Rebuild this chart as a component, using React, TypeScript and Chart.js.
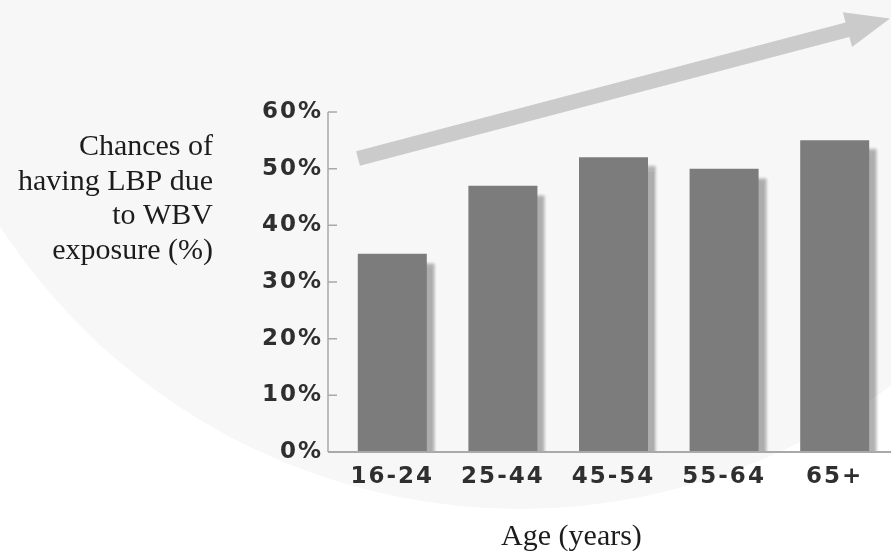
import React, { useEffect, useRef } from "react";
import { Chart, registerables } from "chart.js";

Chart.register(...registerables);

// Age groups and share of workers reporting LBP from whole-body vibration
const AGE_GROUPS = ["16-24", "25-44", "45-54", "55-64", "65+"];
const LBP_CHANCE = [35, 47, 52, 50, 55];
const Y_MIN = 0;
const Y_MAX = 60;
const Y_STEP = 10;
const Y_TITLE_LINES = ["Chances of", "having LBP due", "to WBV", "exposure (%)"];
const X_TITLE = "Age (years)";

// Trend arrow: [fraction across the plot width, value on the y scale]
const ARROW_FROM = [0.038, 51.8];
const ARROW_TO = [1.0, 76.5];

const BAR_COLOR = "#7c7c7c";
const AXIS_COLOR = "#a9a9a9";
const TICK_TEXT = "#2f2f2f";
const SERIF = "'Liberation Serif', 'Times New Roman', serif";
const TICK_FAMILY = "'DejaVu Sans', sans-serif";

const decorPlugin = {
  id: "decor",
  beforeDraw(chart: any) {
    const { ctx } = chart;
    ctx.save();
    // faint seal-like backdrop
    ctx.fillStyle = "rgba(0,0,0,0.03)";
    ctx.beginPath();
    ctx.arc(520, -111, 620, 0, Math.PI * 2);
    ctx.fill();
    ctx.restore();
    ctx.letterSpacing = "2px";
  },
  beforeDatasetsDraw(chart: any) {
    const { ctx } = chart;
    ctx.save();
    ctx.shadowColor = "rgba(0,0,0,0.3)";
    ctx.shadowOffsetX = 8;
    ctx.shadowOffsetY = 9;
    ctx.shadowBlur = 3;
  },
  afterDatasetsDraw(chart: any) {
    const { ctx, chartArea: a } = chart;
    const y = chart.scales.y;
    ctx.restore();

    ctx.save();
    ctx.letterSpacing = "0px";
    // axis line, inward tick marks and baseline
    const axisX = a.left - 9;
    ctx.strokeStyle = AXIS_COLOR;
    ctx.lineWidth = 1.5;
    ctx.beginPath();
    ctx.moveTo(axisX, y.getPixelForValue(Y_MAX));
    ctx.lineTo(axisX, y.getPixelForValue(Y_MIN));
    for (let v = Y_MIN; v <= Y_MAX; v += Y_STEP) {
      const py = y.getPixelForValue(v);
      ctx.moveTo(axisX, py);
      ctx.lineTo(a.left, py);
    }
    ctx.stroke();
    ctx.lineWidth = 2;
    ctx.beginPath();
    const base = y.getPixelForValue(Y_MIN);
    ctx.moveTo(axisX, base);
    ctx.lineTo(chart.width, base);
    ctx.stroke();

    // rising trend arrow
    const w = a.right - a.left;
    const x0 = a.left + ARROW_FROM[0] * w;
    const y0 = y.getPixelForValue(ARROW_FROM[1]);
    const x1 = a.left + ARROW_TO[0] * w;
    const y1 = y.getPixelForValue(ARROW_TO[1]);
    const len = Math.hypot(x1 - x0, y1 - y0);
    const ux = (x1 - x0) / len;
    const uy = (y1 - y0) / len;
    const nx = -uy;
    const ny = ux;
    const shaft = 7.5;
    const headLen = 44;
    const headHalf = 18;
    const bx = x1 - ux * headLen;
    const by = y1 - uy * headLen;
    ctx.fillStyle = "#cbcbcb";
    ctx.beginPath();
    ctx.moveTo(x0 + nx * shaft, y0 + ny * shaft);
    ctx.lineTo(bx + nx * shaft, by + ny * shaft);
    ctx.lineTo(bx + nx * headHalf, by + ny * headHalf);
    ctx.lineTo(x1, y1);
    ctx.lineTo(bx - nx * headHalf, by - ny * headHalf);
    ctx.lineTo(bx - nx * shaft, by - ny * shaft);
    ctx.lineTo(x0 - nx * shaft, y0 - ny * shaft);
    ctx.closePath();
    ctx.fill();
    ctx.restore();
  },
  afterDraw(chart: any) {
    const { ctx, chartArea: a } = chart;
    ctx.save();
    ctx.letterSpacing = "0px";
    ctx.fillStyle = "#1c1c1c";
    ctx.font = `30px ${SERIF}`;
    ctx.textBaseline = "alphabetic";
    // y title, right-aligned block left of the tick labels
    ctx.textAlign = "right";
    const titleRight = a.left - 124;
    Y_TITLE_LINES.forEach((line, i) => {
      ctx.fillText(line, titleRight, 155 + i * 34.5);
    });
    // x title
    ctx.textAlign = "center";
    ctx.fillText(X_TITLE, a.left + 0.424 * (a.right - a.left), 545);
    ctx.restore();
  },
};

export default function App() {
  const ref = useRef<HTMLCanvasElement | null>(null);

  useEffect(() => {
    if (!ref.current) return;
    const chart = new Chart(ref.current, {
      type: "bar",
      data: {
        labels: AGE_GROUPS,
        datasets: [
          {
            data: LBP_CHANCE,
            backgroundColor: BAR_COLOR,
            borderWidth: 0,
            categoryPercentage: 1,
            barPercentage: 0.624,
            clip: { left: false, top: false, right: false, bottom: 0 } as any,
          },
        ],
      },
      options: {
        animation: false,
        responsive: false,
        devicePixelRatio: 1,
        layout: { padding: { top: 112, right: 1, left: 0, bottom: 0 } },
        plugins: {
          legend: { display: false },
          tooltip: { enabled: false },
          title: { display: false },
        },
        scales: {
          x: {
            type: "category",
            grid: { display: false, drawTicks: false },
            border: { display: false },
            ticks: {
              color: TICK_TEXT,
              font: { family: TICK_FAMILY, size: 23, weight: "bold" },
              padding: 11,
              maxRotation: 0,
              autoSkip: false,
            },
            afterFit(scale: any) {
              scale.height = 99;
            },
          },
          y: {
            min: Y_MIN,
            max: Y_MAX,
            grid: { display: false, drawTicks: false },
            border: { display: false },
            ticks: {
              stepSize: Y_STEP,
              color: TICK_TEXT,
              font: { family: TICK_FAMILY, size: 23, weight: "bold" },
              padding: 14,
              callback: (v: any) => `${v}%`,
            },
            afterFit(scale: any) {
              scale.width = 337;
            },
          },
        },
      },
      plugins: [decorPlugin],
    });
    return () => chart.destroy();
  }, []);

  return (
    <div style={{ position: "fixed", left: 0, top: 0, width: 891, height: 551, background: "#fff" }}>
      <canvas ref={ref} width={891} height={551} style={{ display: "block", width: 891, height: 551 }} />
    </div>
  );
}
